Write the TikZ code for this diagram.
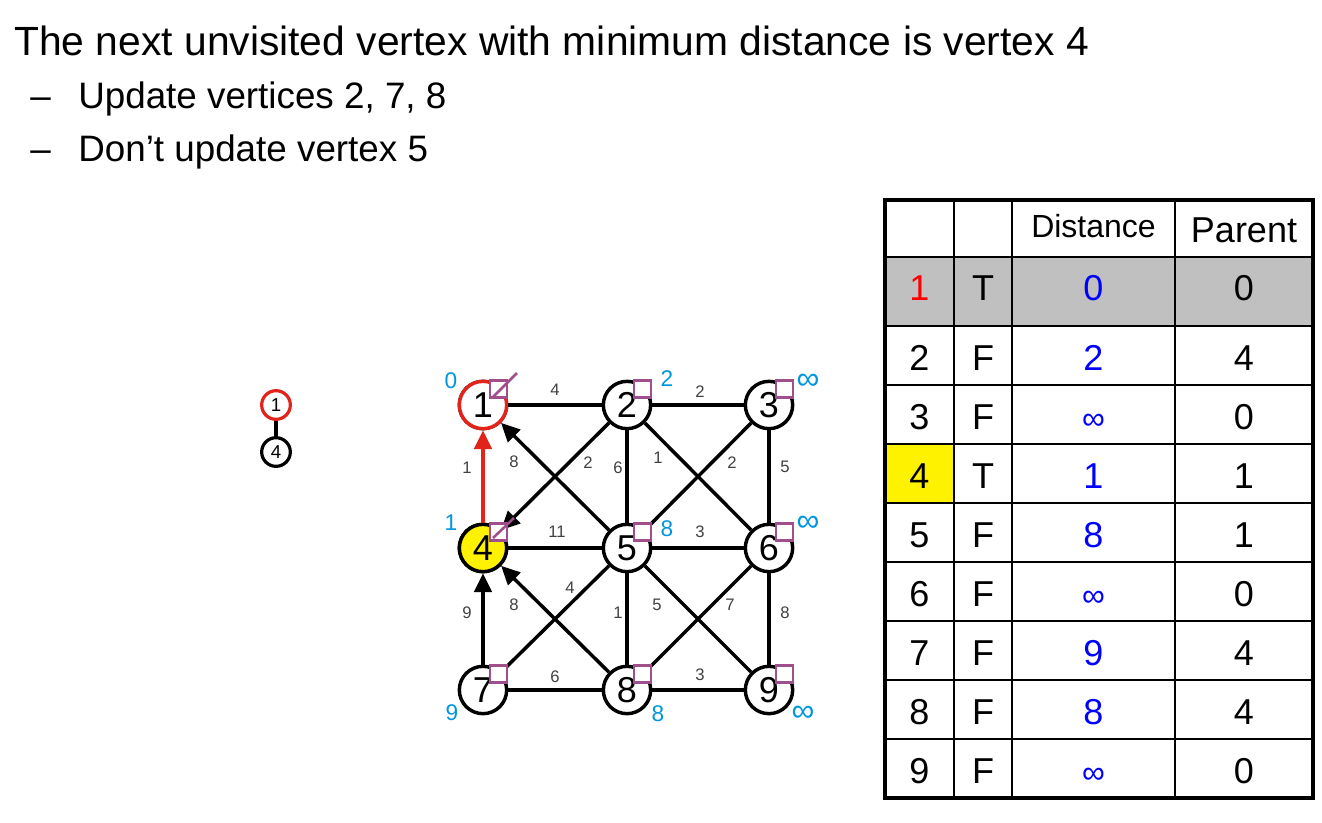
\documentclass[tikz,border=0pt]{standalone}
\usepackage{fontspec}
\setmainfont{Liberation Sans}
\usetikzlibrary{calc, arrows.meta}

\definecolor{tred}{HTML}{E2231A}
\definecolor{lblue}{HTML}{0096DC}
\definecolor{plum}{HTML}{A04F8C}
\definecolor{tgray}{HTML}{C0C0C0}

\newcommand{\fs}[1]{\fontsize{#1}{#1}\selectfont}

\tikzset{
	vertex/.style = {circle, draw, line width = 2.6pt, minimum size = 35.5pt, inner sep = 0pt, fill = white, font = \fs{27}},
	leaf/.style = {circle, draw, line width = 2.4pt, minimum size = 21.5pt, inner sep = 0pt, font = \fs{14}},
	edge/.style = {line width = 2.6pt},
	tree/.style = {edge, -{Triangle[length = 14pt, width = 13pt]}},
	wt/.style = {text = black!75, font = \fs{12.5}, inner sep = 0pt},
	dist/.style = {text = lblue, font = \fs{17}, inner sep = 0pt},
	box/.style = {draw = plum, line width = 1.9pt, fill = white, minimum size = 12.5pt, inner sep = 0pt},
	cell/.style = {font = \fs{27}, inner sep = 0pt, anchor = base},
	line/.style = {font = \fs{27.6}, inner sep = 0pt, anchor = base west}
}

\begin{document}
\begin{tikzpicture}[x = 0.75pt, y = -0.75pt]
		\useasboundingbox (0,0) rectangle (1322,822);
		
		% text at the top
		\node[line, font = \fs{30.6}] (title) at (14,55) {The next unvisited vertex with minimum distance is vertex 4};
		\node[line] (dash1) at (30,108) {–};
		\node[line] (upd) at (78,108) {Update vertices 2, 7, 8};
		\node[line] (dash2) at (30,161) {–};
		\node[line] (noupd) at (78,161) {Don’t update vertex 5};
		
		% tree so far
		\node[leaf, draw = tred] (s1) at (276,405) {1};
		\node[leaf] (s4) at (276,452) {4};
		\draw[edge] (s1) -- (s4);
		
		% graph
		\foreach \n/\x/\y in {1/483/405, 2/627/405, 3/769/405, 4/483/548, 5/627/548, 6/769/548, 7/483/690, 8/627/690, 9/769/690}
			\node[vertex] (v\n) at (\x,\y) {\n};
		\node[vertex, draw = tred] at (v1) {1};
		\node[vertex, fill = yellow] at (v4) {4};
		
		\foreach \a/\b in {1/2, 2/3, 2/5, 2/6, 3/5, 3/6, 4/5, 5/6, 5/7, 5/8, 5/9, 6/8, 6/9, 7/8, 8/9}
			\draw[edge] (v\a) -- (v\b);
		\draw[tree, tred] (v4) -- (v1);
		\foreach \a/\b in {5/1, 2/4, 7/4, 8/4}
			\draw[tree] (v\a) -- (v\b);
		
		% weights
		\foreach \n/\x/\y/\t in {12/555/390/4, 23/700/392/2, 14/467/468/1, 15/514/462/8, 24/588/463/2, 25/618/468/6, 26/658/458/1, 35/732/463/2, 36/785/467/5, 45/557/532/11, 56/700/532/3, 47/467/613/9, 48/514/605/8, 57/570/588/4, 58/618/613/1, 59/657/605/5, 68/730/605/7, 69/785/613/8, 78/555/677/6, 89/700/675/3}
			\node[wt] (w\n) at (\x,\y) {\t};
		
		% marks and distances
		\foreach \n in {1,...,9}
			\node[box] (b\n) at ($(v\n)+(15.5,-16)$) {};
		\node[box, fill = none] at (b4) {};
		\draw[plum, line width = 1.9pt] ($(v1)+(10,-8)$) -- ($(v1)+(34,-32)$);
		\draw[plum, line width = 1.9pt] ($(v4)+(10,-10)$) -- ($(v4)+(31,-30)$);
		
		\foreach \n/\x/\y/\t in {1/451/381/0, 2/667/379/2, 4/451/523/1, 5/667/529/8, 7/452/713/9, 8/658/714/8}
			\node[dist] (d\n) at (\x,\y) {\t};
		\foreach \n/\x/\y in {3/808/382, 6/808/524, 9/803/714}
			\node[dist, font = \fs{24}] (d\n) at (\x,\y) {∞};
		
		% table
		\fill[tgray] (885,257) rectangle (1313,326);
		\fill[yellow] (885,444) rectangle (954,503);
		\foreach \y in {257,326,385,444,503,562,621,680,739}
			\draw[line width = 1.5pt] (885,\y) -- (1313,\y);
		\foreach \x in {954,1012,1175}
			\draw[line width = 1.5pt] (\x,200) -- (\x,798);
		\draw[line width = 3.5pt] (885,200) rectangle (1313,798);
		
		\node[cell, font = \fs{24}] (hd) at (1093.5,237) {Distance};
		\node[cell] (hp) at (1244,242) {Parent};
		\foreach \r/\y/\v/\f/\d/\p in {1/300/\textcolor{red}{1}/T/0/0, 2/370/2/F/2/4, 3/429/3/F/{\fs{24}∞}/0, 4/488/4/T/1/1, 5/547/5/F/8/1, 6/606/6/F/{\fs{24}∞}/0, 7/665/7/F/9/4, 8/724/8/F/8/4, 9/783/9/F/{\fs{24}∞}/0}
		{
			\node[cell] (n\r) at (919.5,\y) {\v};
			\node[cell] (f\r) at (983,\y) {\f};
			\node[cell, text = blue] (c\r) at (1093.5,\y) {\d};
			\node[cell] (p\r) at (1244,\y) {\p};
		}
	\end{tikzpicture}
\end{document}
